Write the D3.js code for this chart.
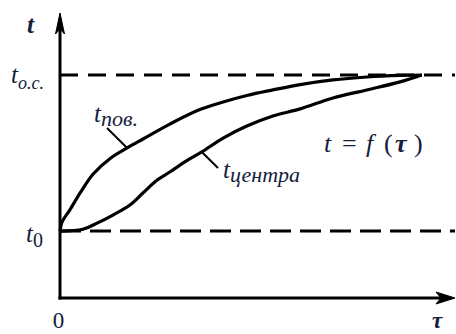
<!DOCTYPE html>
<html>
<head>
<meta charset="utf-8">
<script src="https://cdn.jsdelivr.net/npm/d3@7"></script>
<style>
  html, body { margin: 0; padding: 0; background: #fff; }
  svg { display: block; }
</style>
</head>
<body>
<div id="chart"></div>
<script>
// Heating curves t = f(τ): surface vs. centre temperature, in relative units
const tau = [0, 0.5, 2.5, 5.1, 8.4, 12.7, 17.0, 21.0, 27.8, 35.4, 41.3, 47.3, 53.9, 60.8, 69.1, 77.7, 86.1, 91.6];
const tSurface = [30, 34, 39.5, 47.1, 55.6, 62.6, 67.3, 71.3, 78.0, 84.5, 87.9, 90.8, 93.3, 95.7, 97.8, 99.1, 99.8, 100];

const tauCentre = [0, 5.8, 9.4, 13.4, 17.7, 21.0, 24.6, 27.8, 32.4, 35.9, 41.3, 47.3, 53.9, 60.8, 69.1, 77.7, 86.1, 91.6];
const tCentre = [30, 30.8, 33.6, 37.2, 41.7, 47.1, 52.9, 56.5, 61.9, 65.5, 71.7, 77.1, 81.6, 84.8, 89.7, 93.3, 96.9, 100];

const t0 = 30;      // initial temperature
const tEnv = 100;   // environment temperature t_o.c.
const tauMax = 100;
const tMax = 127.8;

const W = 456, H = 334;
const FONT = "'Liberation Serif', 'Times New Roman', 'DejaVu Serif', serif";
const TXT = "#14203c";

const svg = d3.select("#chart").append("svg").attr("width", W).attr("height", H);

const x = d3.scaleLinear().domain([0, tauMax]).range([60, 455]);
const y = d3.scaleLinear().domain([0, tEnv]).range([298, 75]);

const ink = "#000";

// reference levels t0 and t_o.c.
svg.append("line")
  .attr("x1", x(0)).attr("x2", x(tauMax))
  .attr("y1", y(tEnv)).attr("y2", y(tEnv))
  .attr("stroke", ink).attr("stroke-width", 3).attr("stroke-dasharray", "18,10");
svg.append("line")
  .attr("x1", x(0)).attr("x2", x(tauMax))
  .attr("y1", y(t0)).attr("y2", y(t0))
  .attr("stroke", ink).attr("stroke-width", 3).attr("stroke-dasharray", "21,9");

// axes with arrowheads
const ox = x(0), oy = y(0);
svg.append("line").attr("x1", ox).attr("x2", ox).attr("y1", oy + 1.5).attr("y2", y(tMax) + 6)
  .attr("stroke", ink).attr("stroke-width", 3);
svg.append("line").attr("x1", ox - 1.5).attr("x2", x(tauMax) - 6).attr("y1", oy).attr("y2", oy)
  .attr("stroke", ink).attr("stroke-width", 3);
const ty = y(tMax);
svg.append("path")
  .attr("d", `M${ox},${ty} L${ox - 4.5},${ty + 21} L${ox},${ty + 16} L${ox + 4.5},${ty + 21} Z`)
  .attr("fill", ink).attr("stroke", ink).attr("stroke-width", 1);
const tx = x(tauMax);
svg.append("path")
  .attr("d", `M${tx},${oy} L${tx - 19},${oy - 6} L${tx - 14},${oy} L${tx - 19},${oy + 6} Z`)
  .attr("fill", ink).attr("stroke", ink).attr("stroke-width", 1);

// curves
const line = d3.line().x(d => x(d[0])).y(d => y(d[1])).curve(d3.curveCatmullRom.alpha(0.5));

const surfPts = tau.map((v, i) => [v, tSurface[i]]);
const centPts = tauCentre.map((v, i) => [v, tCentre[i]]);

svg.append("path").attr("d", line(surfPts))
  .attr("fill", "none").attr("stroke", ink).attr("stroke-width", 3.2).attr("stroke-linejoin", "round");
svg.append("path").attr("d", line(centPts))
  .attr("fill", "none").attr("stroke", ink).attr("stroke-width", 3.2).attr("stroke-linejoin", "round");

// leader lines from the curve labels
svg.append("line").attr("x1", 107).attr("y1", 128).attr("x2", x(17.0)).attr("y2", y(67.3))
  .attr("stroke", ink).attr("stroke-width", 2);
svg.append("line").attr("x1", x(35.9)).attr("y1", y(65.5)).attr("x2", 218).attr("y2", 168)
  .attr("stroke", ink).attr("stroke-width", 2);

// text helpers
function txt(xp, yp, size) {
  return svg.append("text").attr("x", xp).attr("y", yp)
    .style("font-family", FONT).style("font-size", size + "px").style("fill", TXT);
}
function label(xp, yp, main, sub, opts = {}) {
  const t = txt(xp, yp, opts.size || 25).style("font-style", "italic");
  if (opts.bold) t.style("font-weight", "bold");
  t.append("tspan").text(main);
  if (sub) {
    t.append("tspan").attr("dy", opts.subDy || 5).style("font-size", (opts.subSize || 20) + "px")
      .style("font-style", opts.subUpright ? "normal" : "italic").text(sub);
  }
  return t;
}

label(27, 33, "t", null, { bold: true, size: 25 });
label(11, 83, "t", "o.c.", { subSize: 18, subDy: 6 });
label(26, 242, "t", "0", { subUpright: true, subSize: 20, subDy: 5 });
label(94, 122, "t", "пов.", { subSize: 22, subDy: 4 });
label(223, 178, "t", "центра", { subSize: 22, subDy: 4 });

// formula t = f(τ)
const f = txt(0, 152, 26).style("font-style", "italic");
f.append("tspan").attr("x", 324).text("t");
f.append("tspan").attr("x", 342).style("font-style", "normal").text("=");
f.append("tspan").attr("x", 366).text("f");
f.append("tspan").attr("x", 384).style("font-style", "normal").text("(");
f.append("tspan").attr("x", 395).style("font-weight", "bold").text("τ");
f.append("tspan").attr("x", 414).style("font-style", "normal").text(")");

// axis end labels
txt(x(0) - 1.5, 328, 23).attr("text-anchor", "middle").text("0");
txt(437, 328, 23).attr("text-anchor", "middle").style("font-style", "italic")
  .style("font-weight", "bold").text("τ");
</script>
</body>
</html>
